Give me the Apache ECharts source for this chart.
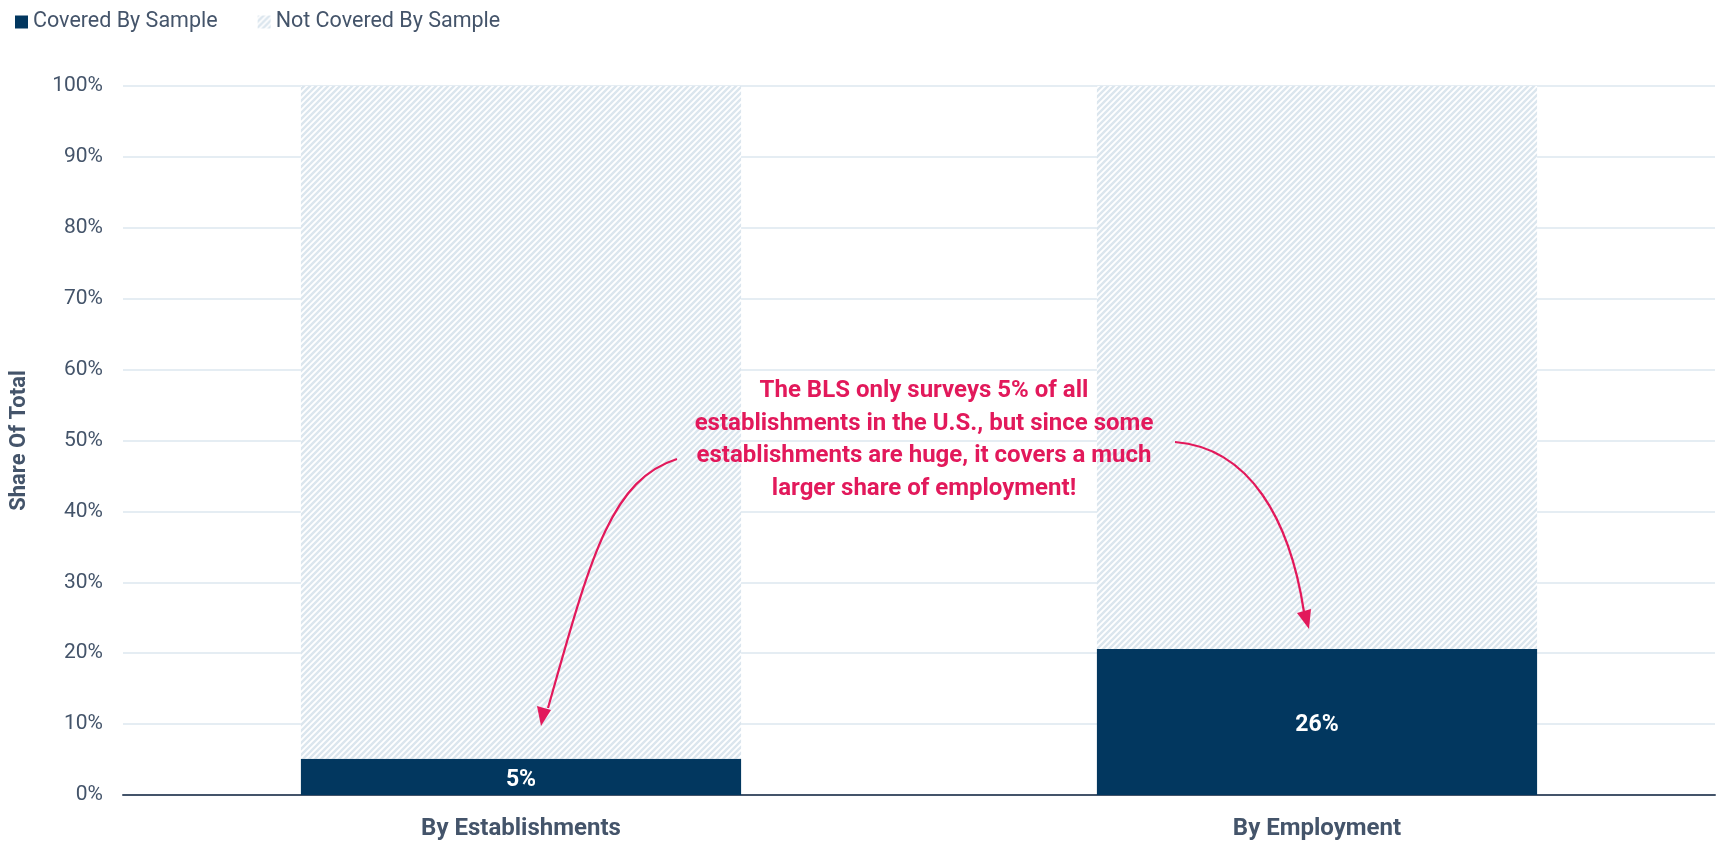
<!DOCTYPE html>
<html>
<head>
<meta charset="utf-8">
<script src="https://cdn.jsdelivr.net/npm/echarts@6/dist/echarts.min.js"></script>
<style>
  html, body { margin: 0; padding: 0; background: #fff; }
  #chart { width: 1721px; height: 842px; }
</style>
</head>
<body>
<div id="chart"></div>
<script>
const categories = ['By Establishments', 'By Employment'];
const coveredValues = [5.1, 20.6];
const notCoveredValues = [94.9, 79.4];
const coveredLabels = ['5%', '26%'];
const yTicks = [0, 10, 20, 30, 40, 50, 60, 70, 80, 90, 100];
const noteLines = [
  'The BLS only surveys 5% of all',
  'establishments in the U.S., but since some',
  'establishments are huge, it covers a much',
  'larger share of employment!'
];

const NAVY = '#02375f';
const SLATE = '#44546a';
const PINK = '#e2195b';

// diagonal hatch tile for the "not covered" part
function makeHatch() {
  const s = 6;
  const c = document.createElement('canvas');
  c.width = s; c.height = s;
  const ctx = c.getContext('2d');
  ctx.fillStyle = '#ffffff';
  ctx.fillRect(0, 0, s, s);
  ctx.strokeStyle = '#dbe6ee';
  ctx.lineWidth = 2.4;
  ctx.beginPath();
  ctx.moveTo(-s, s); ctx.lineTo(s, -s);
  ctx.moveTo(0, s); ctx.lineTo(s, 0);
  ctx.moveTo(0, 2 * s); ctx.lineTo(2 * s, 0);
  ctx.stroke();
  return c;
}

const chart = echarts.init(document.getElementById('chart'));

const option = {
  animation: false,
  textStyle: { fontFamily: 'Roboto' },
  legend: {
    left: 10,
    top: 6,
    itemWidth: 13,
    itemHeight: 13,
    itemGap: 40,
    icon: 'rect',
    textStyle: { color: SLATE, fontSize: 21.5, fontFamily: 'Roboto' },
    data: ['Covered By Sample', 'Not Covered By Sample']
  },
  grid: {
    left: 119,
    right: 6,
    top: 86,
    bottom: 47
  },
  xAxis: {
    type: 'category',
    data: categories,
    axisLine: { lineStyle: { color: SLATE, width: 2 } },
    axisTick: { show: false },
    axisLabel: {
      color: SLATE,
      fontWeight: 'bold',
      fontSize: 24,
      margin: 22
    }
  },
  yAxis: {
    type: 'value',
    min: 0,
    max: 100,
    interval: 10,
    name: 'Share Of Total',
    nameLocation: 'middle',
    nameGap: 93,
    nameTextStyle: { color: SLATE, fontWeight: 'bold', fontSize: 22 },
    axisLine: { show: false },
    axisTick: { show: false },
    axisLabel: {
      color: SLATE,
      fontSize: 21,
      margin: 20,
      formatter: v => yTicks.includes(v) ? v + '%' : ''
    },
    splitLine: { lineStyle: { color: '#dce7ef', width: 1.5 } }
  },
  series: [
    {
      name: 'Covered By Sample',
      type: 'bar',
      stack: 'total',
      barWidth: '55.3%',
      data: coveredValues,
      itemStyle: { color: NAVY },
      label: {
        show: true,
        position: 'inside',
        offset: [0, 3],
        color: '#ffffff',
        fontWeight: 'bold',
        fontSize: 23,
        formatter: p => coveredLabels[p.dataIndex]
      }
    },
    {
      name: 'Not Covered By Sample',
      type: 'bar',
      stack: 'total',
      barWidth: '55.3%',
      data: notCoveredValues,
      itemStyle: { color: { image: makeHatch(), repeat: 'repeat' } }
    }
  ],
  graphic: [
    {
      type: 'text',
      z: 100,
      x: 924,
      y: 375,
      style: {
        text: noteLines.join('\n'),
        align: 'center',
        verticalAlign: 'top',
        fill: PINK,
        font: 'bold 24px Roboto',
        lineHeight: 32.5
      }
    },
    {
      type: 'bezierCurve',
      z: 100,
      shape: { x1: 677, y1: 459, cpx1: 610, cpy1: 480, x2: 548, y2: 708, cpx2: 590, cpy2: 560 },
      style: { stroke: PINK, lineWidth: 2.2, fill: null }
    },
    {
      type: 'polygon',
      z: 100,
      shape: { points: [[541, 726], [537, 706], [551, 710]] },
      style: { fill: PINK }
    },
    {
      type: 'bezierCurve',
      z: 100,
      shape: { x1: 1175, y1: 442, cpx1: 1250, cpy1: 448, x2: 1304, y2: 612, cpx2: 1290, cpy2: 520 },
      style: { stroke: PINK, lineWidth: 2.2, fill: null }
    },
    {
      type: 'polygon',
      z: 100,
      shape: { points: [[1309, 629], [1297, 613], [1311, 609]] },
      style: { fill: PINK }
    }
  ]
};

chart.setOption(option);
</script>
</body>
</html>
